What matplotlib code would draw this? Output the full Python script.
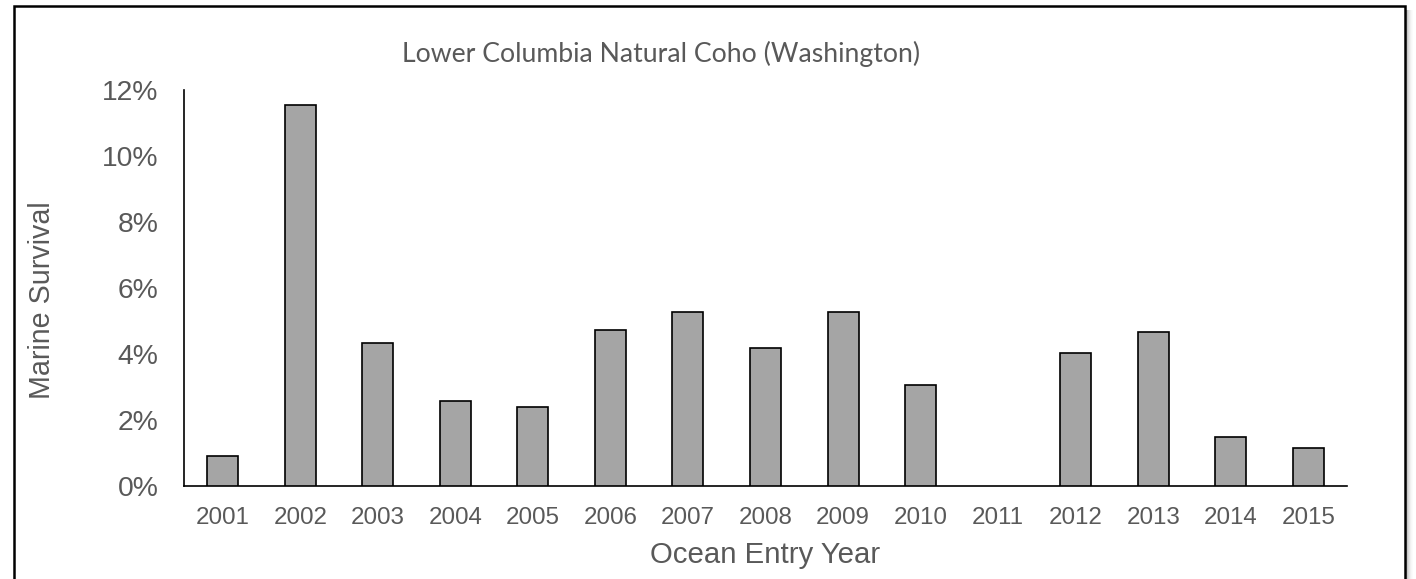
import numpy as np
import matplotlib
matplotlib.use("Agg")
import matplotlib.pyplot as plt
from matplotlib.patches import Rectangle
from matplotlib.ticker import FuncFormatter

# Marine survival of Lower Columbia natural coho by ocean entry year
years = ["2001", "2002", "2003", "2004", "2005", "2006", "2007", "2008",
         "2009", "2010", "2011", "2012", "2013", "2014", "2015"]
survival_pct = [0.92, 11.55, 4.33, 2.58, 2.39, 4.72, 5.27, 4.19,
                5.28, 3.07, np.nan, 4.03, 4.67, 1.49, 1.16]
y_ticks_pct = [0, 2, 4, 6, 8, 10, 12]

title = "Lower Columbia Natural Coho (Washington)"
x_label = "Ocean Entry Year"
y_label = "Marine Survival"

W, H = 1416, 579
fig = plt.figure(figsize=(W / 100, H / 100), dpi=100)
fig.patch.set_facecolor("white")

TEXT = "#595959"
SANS = ["Liberation Sans", "DejaVu Sans"]

# plot area
ax = fig.add_axes([184 / W, 1 - 486 / H, (1347 - 184) / W, (486 - 90) / H])
x = np.arange(len(years))
vals = np.array(survival_pct) / 100.0
ax.bar(x, vals, width=0.4, color="#A5A5A5", edgecolor="black",
       linewidth=1.2, zorder=3)

ax.set_xlim(-0.5, len(years) - 0.5)
ax.set_ylim(0, 0.12)
ax.set_yticks(np.array(y_ticks_pct) / 100.0)
ax.yaxis.set_major_formatter(FuncFormatter(lambda v, p: f"{v * 100:.0f}%"))
ax.set_xticks(x)
ax.set_xticklabels(years)

for s in ["top", "right"]:
    ax.spines[s].set_visible(False)
for s in ["left", "bottom"]:
    ax.spines[s].set_color("black")
    ax.spines[s].set_linewidth(1.2)

ax.tick_params(axis="y", length=0, pad=18.5, labelsize=20.3, labelcolor=TEXT)
ax.tick_params(axis="x", length=0, pad=15, labelsize=17.4, labelcolor=TEXT)
for lab in ax.get_xticklabels() + ax.get_yticklabels():
    lab.set_family(SANS)

# titles and axis labels
fig.text(661 / W, 1 - 62 / H, title, ha="center", va="baseline",
         fontsize=19.2, color=TEXT, family=["Lato", "DejaVu Sans"])
fig.text(765 / W, 1 - 563 / H, x_label, ha="center", va="baseline",
         fontsize=21.2, color=TEXT, family=SANS)
fig.text(42 / W, 1 - 300 / H, y_label, ha="center", va="center",
         rotation=90, fontsize=20.6, color=TEXT, family=SANS)

# chart frame with a soft drop shadow on the right
for i, a in enumerate([0.30, 0.22, 0.15, 0.10, 0.06, 0.03, 0.015]):
    fig.patches.append(Rectangle(((1406 + i) / W, 0), 1 / W, 1 - 10 / H,
                                 transform=fig.transFigure, facecolor="black",
                                 edgecolor="none", alpha=a))
fig.patches.append(Rectangle((14 / W, -0.05), (1405 - 14) / W, 1.05 - 6 / H,
                             transform=fig.transFigure, facecolor="none",
                             edgecolor="black", linewidth=1.8))

fig.savefig("out.png", dpi=100)
